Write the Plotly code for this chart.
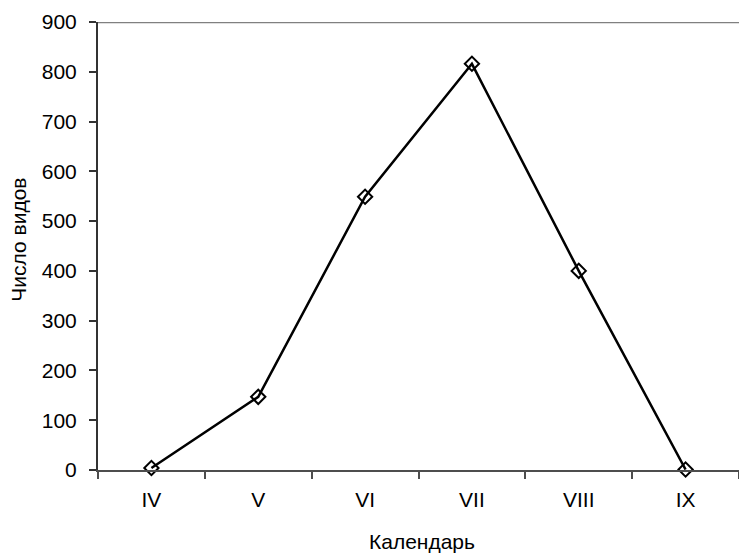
import plotly.graph_objects as go

months = ["IV", "V", "VI", "VII", "VIII", "IX"]
species = [4, 147, 549, 816, 400, 1]
y_ticks = [0, 100, 200, 300, 400, 500, 600, 700, 800, 900]
x_title = "Календарь"
y_title = "Число видов"

fig = go.Figure()
fig.add_trace(go.Scatter(
    x=months, y=species, mode="lines+markers",
    line=dict(color="black", width=2.5),
    marker=dict(symbol="diamond-open", size=11, color="black", line=dict(width=2)),
    cliponaxis=False, showlegend=False,
))

fig.add_shape(type="line", xref="paper", yref="y", x0=0, x1=1, y0=900, y1=900,
              line=dict(color="#808080", width=2.5))

font = dict(family="Liberation Sans, Arial, sans-serif", size=21, color="black")

fig.add_annotation(text=x_title, xref="paper", yref="paper", x=0.505, y=-0.1607,
                   xanchor="center", yanchor="middle", showarrow=False, font=font)
fig.add_annotation(text=y_title, xref="paper", yref="paper", x=0, xshift=-79.5, y=0.513,
                   xanchor="center", yanchor="middle", textangle=-90, showarrow=False, font=font)

fig.update_layout(
    width=739, height=554,
    margin=dict(l=98, r=0, t=22, b=84),
    plot_bgcolor="white", paper_bgcolor="white",
    font=font,
    xaxis=dict(
        type="category", range=[-0.5, 5.5], automargin=False,
        showline=True, linecolor="#4d4d4d", linewidth=2,
        ticks="outside", tickson="boundaries", ticklen=7, tickcolor="#4d4d4d", tickwidth=1.5,
        showgrid=False, zeroline=False, ticklabelstandoff=10,
        tickfont=font,
    ),
    yaxis=dict(
        range=[0, 900], tickvals=y_ticks, automargin=False,
        showline=True, linecolor="#333333", linewidth=2,
        ticks="outside", ticklen=7, tickcolor="#333333", tickwidth=1.5,
        showgrid=False, zeroline=False, ticklabelstandoff=8,
        tickfont=font,
    ),
)
fig.write_html("out.html", config={"displayModeBar": False},
               post_script="document.body.style.margin='0';document.body.style.overflow='hidden';")
